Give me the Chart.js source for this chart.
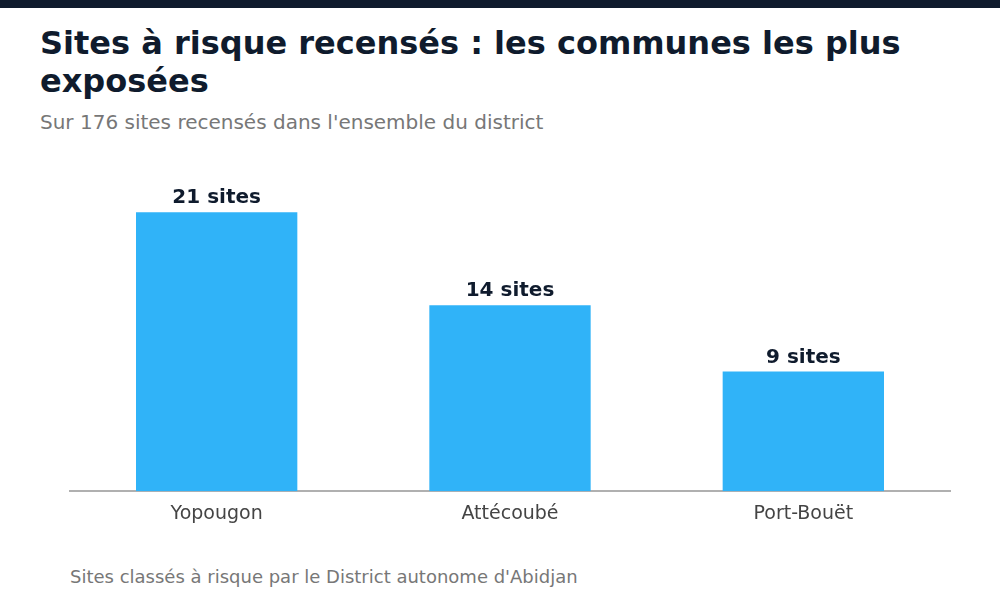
<!DOCTYPE html>
<html lang="fr">
<head>
<meta charset="utf-8">
<script src="https://cdn.jsdelivr.net/npm/chart.js@4/dist/chart.umd.min.js"></script>
<style>
  html, body { margin: 0; padding: 0; background: #fff; }
  body { width: 1000px; height: 600px; position: relative; overflow: hidden; font-family: "DejaVu Sans", sans-serif; }
  .topbar { position: absolute; left: 0; top: 0; width: 1000px; height: 8px; background: #0f1b2d; }
  h1 { position: absolute; left: 40px; top: 24px; width: 920px; margin: 0; font-size: 32px; line-height: 38px; font-weight: bold; color: #0f1b2d; }
  .sub { position: absolute; left: 40px; top: 110px; margin: 0; font-size: 20px; line-height: 24px; color: #777; }
  .foot { position: absolute; left: 70px; top: 566px; margin: 0; font-size: 18px; line-height: 22px; color: #777; }
  canvas { position: absolute; left: 0; top: 140px; }
</style>
</head>
<body>
<div class="topbar"></div>
<h1>Sites à risque recensés : les communes les plus exposées</h1>
<p class="sub">Sur 176 sites recensés dans l'ensemble du district</p>
<canvas id="myChart" width="1000" height="400"></canvas>
<p class="foot">Sites classés à risque par le District autonome d'Abidjan</p>
<script>
var communes = ['Yopougon', 'Attécoubé', 'Port-Bouët'];
var sites = [21, 14, 9];
var yMax = 25;

// labels "21 sites" above each bar
var barLabels = {
    id: 'barLabels',
    afterDatasetsDraw: function (chart) {
        var ctx = chart.ctx;
        var meta = chart.getDatasetMeta(0);
        ctx.save();
        ctx.font = 'bold 20px "DejaVu Sans"';
        ctx.fillStyle = '#0f1b2d';
        ctx.textAlign = 'center';
        ctx.textBaseline = 'bottom';
        meta.data.forEach(function (bar, i) {
            ctx.fillText(sites[i] + ' sites', bar.x, bar.y - 4);
        });
        ctx.restore();
    }
};

var ctx = document.getElementById('myChart').getContext('2d');
var chart = new Chart(ctx, {
    type: 'bar',
    data: {
        labels: communes,
        datasets: [{
            data: sites,
            backgroundColor: '#30b3f8',
            borderWidth: 0,
            categoryPercentage: 1,
            barPercentage: 0.55
        }]
    },
    options: {
        responsive: false,
        animation: false,
        devicePixelRatio: 1,
        layout: { padding: { left: 70, right: 50, top: 19, bottom: 4 } },
        plugins: {
            legend: { display: false },
            tooltip: { enabled: false }
        },
        scales: {
            x: {
                grid: { display: false, drawTicks: false },
                border: { display: true, color: '#b0b0b0', width: 2 },
                ticks: { color: '#444', padding: 11, font: { family: 'DejaVu Sans', size: 19 } }
            },
            y: {
                display: false,
                min: 0,
                max: yMax
            }
        }
    },
    plugins: [barLabels]
});
</script>
</body>
</html>
